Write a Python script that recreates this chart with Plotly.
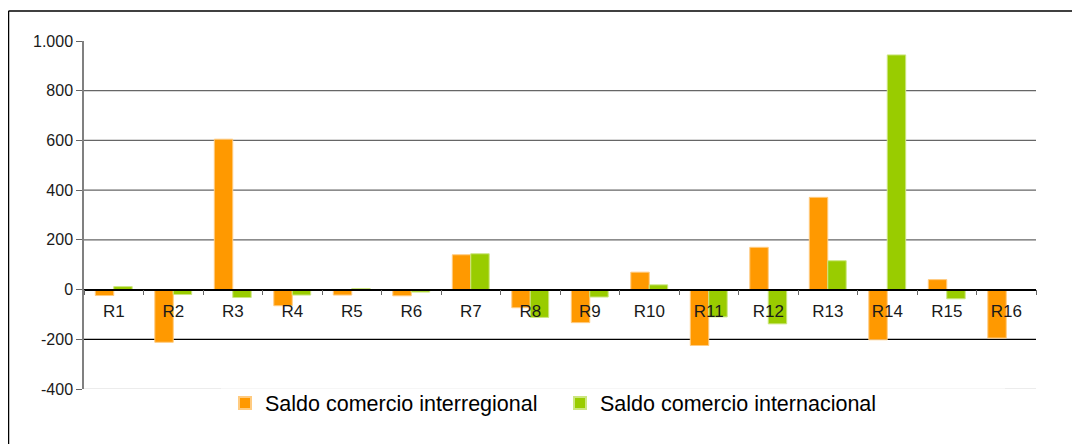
import plotly.graph_objects as go

categories = ["R1", "R2", "R3", "R4", "R5", "R6", "R7", "R8",
              "R9", "R10", "R11", "R12", "R13", "R14", "R15", "R16"]
interregional = [-24, -212, 605, -65, -22, -25, 140, -73,
                 -133, 70, -225, 170, 371, -202, 40, -195]
internacional = [12, -20, -32, -22, 4, -10, 144, -112,
                 -30, 19, -110, -138, 116, 944, -37, 0]
series_names = ["Saldo comercio interregional", "Saldo comercio internacional"]
tick_values = [-400, -200, 0, 200, 400, 600, 800, 1000]
tick_labels = ["-400", "-200", "0", "200", "400", "600", "800", "1.000"]
grid_values = [200, 400, 600, 800]

y_min, y_max = -400, 1000
font_family = "Liberation Sans, Arial, sans-serif"

fig = go.Figure()
fig.add_trace(go.Bar(
    x=categories, y=interregional, name=series_names[0],
    marker=dict(color="#FF9900", line=dict(color="#FFCB80", width=1)),
))
fig.add_trace(go.Bar(
    x=categories, y=internacional, name=series_names[1],
    marker=dict(color="#99CC00", line=dict(color="#CCE680", width=1)),
))

# plot area in page pixels (body margin of 8px is included)
W, H = 1072, 436
ml, mt, mr, mb = 76, 33, 44, 55
pw, ph = W - ml - mr, H - mt - mb


def px_x(p):  # page pixel -> paper x
    return (p - 8 - ml) / pw


def px_y(p):  # page pixel -> paper y
    return (H - mb - (p - 8)) / ph


shapes = []
for g in grid_values:
    shapes.append(dict(type="line", xref="paper", yref="y", x0=0, x1=1, y0=g, y1=g,
                       line=dict(color="#666666", width=1.3), layer="below"))
shapes.append(dict(type="line", xref="paper", yref="y", x0=0, x1=1, y0=-200, y1=-200,
                   line=dict(color="#000000", width=1.3), layer="below"))
shapes.append(dict(type="line", xref="paper", yref="y", x0=0, x1=1, y0=-400, y1=-400,
                   line=dict(color="#E6E6E6", width=1.3), layer="below"))
# white legend box area hiding the bottom gridline
shapes.append(dict(type="rect", xref="paper", yref="paper", x0=px_x(221), x1=px_x(1005),
                   y0=px_y(430), y1=px_y(388.5), fillcolor="white", line=dict(width=0),
                   layer="above"))
# outer chart border (top and left visible)
shapes.append(dict(type="line", xref="paper", yref="paper", x0=px_x(8.5), x1=px_x(1090),
                   y0=px_y(11), y1=px_y(11), line=dict(color="#000000", width=1.5)))
shapes.append(dict(type="line", xref="paper", yref="paper", x0=px_x(8.5), x1=px_x(8.5),
                   y0=px_y(460), y1=px_y(11), line=dict(color="#000000", width=1.5)))

zero_pos = (0 - y_min) / (y_max - y_min)

fig.update_layout(
    width=W, height=H,
    margin=dict(l=ml, r=mr, t=mt, b=mb),
    paper_bgcolor="white", plot_bgcolor="white",
    barmode="group", bargap=0.38, bargroupgap=0,
    font=dict(family=font_family, size=16, color="#1a1a1a"),
    showlegend=True,
    legend=dict(orientation="h", x=px_x(225), xanchor="left", y=px_y(403), yanchor="middle",
                bgcolor="rgba(255,255,255,0)", font=dict(size=21.5, color="#000000"),
                entrywidth=290, entrywidthmode="pixels",
                itemsizing="constant", traceorder="normal"),
    shapes=shapes,
    xaxis=dict(
        type="category", anchor="free", position=zero_pos,
        showline=True, linecolor="#000000", linewidth=1.5,
        ticks="outside", tickson="boundaries", ticklen=5, tickcolor="#666666", tickwidth=1,
        showgrid=False, zeroline=False, ticklabelstandoff=6,
        tickfont=dict(size=17, color="#1a1a1a"),
    ),
    yaxis=dict(
        range=[y_min, y_max], tickvals=tick_values, ticktext=tick_labels,
        showline=True, linecolor="#808080", linewidth=1.5,
        ticks="outside", ticklen=6, tickcolor="#666666", tickwidth=1,
        showgrid=False, zeroline=False,
        tickfont=dict(size=16, color="#1a1a1a"),
    ),
)

fig.write_html("out.html")
